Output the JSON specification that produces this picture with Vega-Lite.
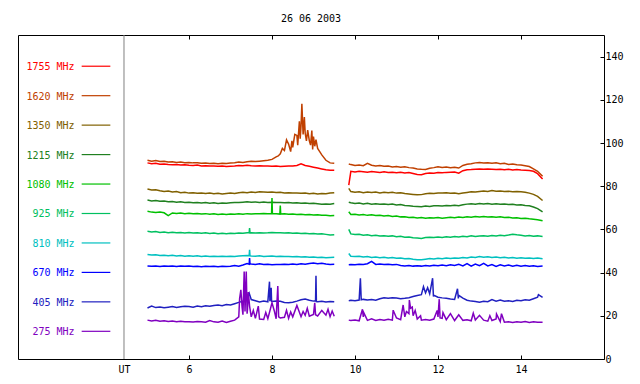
{
"$schema": "https://vega.github.io/schema/vega-lite/v6.json",
"width": 586, "height": 324,
"autosize": {"type": "none"},
"padding": {"left": 18, "top": 35, "right": 36, "bottom": 25},
"background": "#ffffff",
"title": {"text": "26 06 2003", "font": "DejaVu Sans Mono", "fontSize": 10, "fontWeight": "normal", "color": "#000000", "baseline": "alphabetic", "offset": 3, "anchor": "middle"},
"config": {
  "view": {"stroke": "#000000", "strokeWidth": 1},
  "axis": {"labelFont": "DejaVu Sans Mono", "labelFontSize": 10, "labelColor": "#000000", "tickColor": "#000000", "domain": false, "grid": false, "title": null}
},
"datasets": {
"series": [
{"t":5.0,"g":1,"a":90.8,"b":92.0,"c":78.7,"d":73.6,"e":68.4,"f":59.1,"h":48.4,"i":43.1,"j":23.6,"k":18.0},
{"t":5.1,"g":1,"a":90.4,"b":91.6,"c":78.2,"d":73.2,"e":68.0,"f":58.8,"h":48.1,"i":42.9,"j":24.5,"k":17.6},
{"t":5.2,"g":1,"a":90.6,"b":91.9,"c":78.4,"d":73.4,"e":67.8,"f":59.0,"h":48.3,"i":43.0,"j":23.8,"k":17.9},
{"t":5.3,"g":1,"a":90.2,"b":91.4,"c":77.9,"d":73.0,"e":68.1,"f":58.6,"h":47.9,"i":42.8,"j":24.1,"k":17.5},
{"t":5.4,"g":1,"a":90.3,"b":91.6,"c":77.6,"d":73.1,"e":67.7,"f":58.8,"h":48.0,"i":43.1,"j":23.7,"k":17.7},
{"t":5.5,"g":1,"a":90.0,"b":91.2,"c":77.8,"d":72.8,"e":66.4,"f":58.5,"h":47.8,"i":42.9,"j":24.0,"k":17.4},
{"t":5.6,"g":1,"a":89.9,"b":91.3,"c":77.3,"d":72.9,"e":67.6,"f":58.7,"h":48.0,"i":43.0,"j":24.3,"k":17.6},
{"t":5.7,"g":1,"a":90.1,"b":91.0,"c":77.5,"d":72.6,"e":67.4,"f":58.4,"h":47.7,"i":42.8,"j":23.9,"k":17.3},
{"t":5.8,"g":1,"a":89.8,"b":91.2,"c":77.0,"d":72.8,"e":67.6,"f":58.6,"h":47.9,"i":43.0,"j":24.2,"k":17.5},
{"t":5.9,"g":1,"a":89.9,"b":90.9,"c":77.2,"d":72.5,"e":67.3,"f":58.3,"h":47.6,"i":42.9,"j":24.4,"k":17.2},
{"t":6.0,"g":1,"a":89.7,"b":91.0,"c":76.8,"d":72.6,"e":67.5,"f":58.6,"h":47.8,"i":43.0,"j":24.3,"k":17.3},
{"t":6.1,"g":1,"a":89.6,"b":90.8,"c":77.0,"d":72.3,"e":67.2,"f":58.3,"h":47.6,"i":42.8,"j":24.0,"k":17.1},
{"t":6.2,"g":1,"a":89.8,"b":90.9,"c":76.7,"d":72.5,"e":67.4,"f":58.5,"h":47.8,"i":42.9,"j":24.5,"k":17.4},
{"t":6.3,"g":1,"a":89.4,"b":90.6,"c":76.9,"d":72.2,"e":67.1,"f":58.2,"h":47.5,"i":42.7,"j":24.2,"k":17.2},
{"t":6.4,"g":1,"a":89.5,"b":90.7,"c":76.6,"d":72.4,"e":67.3,"f":58.4,"h":47.7,"i":42.9,"j":24.6,"k":17.0},
{"t":6.5,"g":1,"a":89.3,"b":90.5,"c":76.8,"d":72.1,"e":67.0,"f":58.1,"h":47.5,"i":42.8,"j":24.4,"k":17.8},
{"t":6.6,"g":1,"a":89.4,"b":90.6,"c":76.5,"d":72.3,"e":67.2,"f":58.3,"h":47.6,"i":42.9,"j":24.8,"k":17.2},
{"t":6.7,"g":1,"a":89.2,"b":90.4,"c":76.7,"d":72.0,"e":66.9,"f":58.0,"h":47.4,"i":42.7,"j":25.0,"k":17.0},
{"t":6.8,"g":1,"a":89.3,"b":90.6,"c":76.4,"d":72.2,"e":67.1,"f":58.2,"h":47.6,"i":42.9,"j":24.7,"k":17.6},
{"t":6.9,"g":1,"a":89.1,"b":90.5,"c":76.6,"d":72.1,"e":66.9,"f":58.0,"h":47.4,"i":42.8,"j":25.2,"k":16.9},
{"t":7.0,"g":1,"a":89.2,"b":90.7,"c":76.8,"d":72.3,"e":67.1,"f":58.2,"h":47.6,"i":42.9,"j":25.0,"k":17.5},
{"t":7.1,"g":1,"a":89.3,"b":90.9,"c":76.6,"d":72.5,"e":67.0,"f":58.1,"h":47.5,"i":43.3,"j":25.6,"k":18.0},
{"t":7.2,"g":1,"a":89.6,"b":91.2,"c":77.0,"d":72.4,"e":67.2,"f":58.3,"h":47.7,"i":43.0,"j":26.2,"k":19.5},
{"t":7.3,"g":1,"a":89.5,"b":91.0,"c":77.2,"d":72.6,"e":67.0,"f":58.2,"h":47.8,"i":43.5,"j":26.8,"k":20.5},
{"t":7.4,"g":1,"a":89.7,"b":91.3,"c":77.0,"d":72.8,"e":67.3,"f":58.4,"h":47.9,"i":44.2,"j":28.2,"k":21.0},
{"t":7.5,"g":1,"a":89.5,"b":91.5,"c":77.3,"d":72.6,"e":67.1,"f":58.5,"h":47.7,"i":44.0,"j":27.5,"k":19.5},
{"t":7.6,"g":1,"a":89.4,"b":91.4,"c":77.1,"d":72.7,"e":67.3,"f":58.3,"h":47.6,"i":43.8,"j":27.0,"k":18.8},
{"t":7.7,"g":1,"a":89.5,"b":91.6,"c":77.4,"d":72.5,"e":67.2,"f":58.5,"h":47.8,"i":44.1,"j":26.4,"k":18.5},
{"t":7.8,"g":1,"a":89.3,"b":91.8,"c":77.3,"d":72.7,"e":67.4,"f":58.3,"h":47.5,"i":43.7,"j":26.8,"k":18.3},
{"t":7.9,"g":1,"a":89.4,"b":92.0,"c":77.2,"d":72.5,"e":67.2,"f":58.4,"h":47.6,"i":43.9,"j":26.5,"k":18.7},
{"t":8.0,"g":1,"a":89.2,"b":92.4,"c":77.3,"d":72.6,"e":74.5,"f":58.6,"h":47.7,"i":43.6,"j":26.6,"k":26.0},
{"t":8.1,"g":1,"a":89.3,"b":93.6,"c":77.1,"d":72.4,"e":67.3,"f":58.4,"h":47.5,"i":43.8,"j":26.9,"k":18.6},
{"t":8.2,"g":1,"a":89.1,"b":95.0,"c":77.2,"d":72.5,"e":71.0,"f":58.5,"h":47.6,"i":43.7,"j":26.7,"k":19.0},
{"t":8.3,"g":1,"a":89.2,"b":96.5,"c":76.9,"d":72.3,"e":67.2,"f":58.3,"h":47.4,"i":43.9,"j":26.2,"k":19.3},
{"t":8.4,"g":1,"a":89.3,"b":99.5,"c":77.0,"d":72.4,"e":67.0,"f":58.4,"h":47.5,"i":43.8,"j":26.0,"k":18.8},
{"t":8.5,"g":1,"a":89.4,"b":98.0,"c":76.8,"d":72.2,"e":67.1,"f":58.2,"h":47.3,"i":44.0,"j":26.3,"k":19.5},
{"t":8.6,"g":1,"a":89.6,"b":103.5,"c":76.9,"d":72.3,"e":66.9,"f":58.3,"h":47.4,"i":43.8,"j":26.8,"k":24.8},
{"t":8.7,"g":1,"a":90.4,"b":108.0,"c":76.7,"d":72.1,"e":67.0,"f":58.1,"h":47.2,"i":44.1,"j":27.4,"k":19.6},
{"t":8.8,"g":1,"a":89.6,"b":104.5,"c":76.8,"d":72.2,"e":66.8,"f":58.2,"h":47.3,"i":43.9,"j":27.8,"k":20.2},
{"t":8.9,"g":1,"a":89.2,"b":101.0,"c":76.5,"d":72.0,"e":66.9,"f":58.0,"h":47.1,"i":44.2,"j":27.2,"k":19.8},
{"t":9.0,"g":1,"a":88.8,"b":103.0,"c":76.7,"d":72.1,"e":66.7,"f":58.1,"h":47.2,"i":44.4,"j":26.8,"k":20.6},
{"t":9.1,"g":1,"a":88.4,"b":97.5,"c":76.4,"d":71.9,"e":66.8,"f":57.9,"h":47.0,"i":44.1,"j":26.5,"k":19.9},
{"t":9.2,"g":1,"a":88.0,"b":94.5,"c":76.6,"d":71.6,"e":66.5,"f":58.0,"h":47.1,"i":44.3,"j":26.7,"k":22.5},
{"t":9.3,"g":1,"a":87.6,"b":92.0,"c":76.5,"d":71.8,"e":66.6,"f":57.7,"h":46.9,"i":44.0,"j":26.4,"k":20.3},
{"t":9.4,"g":1,"a":87.4,"b":90.8,"c":76.8,"d":71.7,"e":66.3,"f":57.4,"h":47.0,"i":43.8,"j":26.6,"k":19.6},
{"t":9.5,"g":1,"a":87.4,"b":90.6,"c":77.0,"d":72.0,"e":66.4,"f":57.5,"h":47.1,"i":43.9,"j":26.5,"k":19.8},
{"t":7.22,"g":1,"k":28.0},
{"t":7.25,"g":1,"k":32.0},
{"t":7.28,"g":1,"k":24.0},
{"t":7.33,"g":1,"k":40.5},
{"t":7.35,"g":1,"k":22.0},
{"t":7.38,"g":1,"k":40.5},
{"t":7.41,"g":1,"k":23.0},
{"t":7.43,"g":1,"k":31.0},
{"t":7.45,"g":1,"f":58.4,"h":47.8,"i":43.9,"j":30.5},
{"t":7.46,"g":1,"f":60.6,"h":50.5,"i":46.7,"k":24.5},
{"t":7.47,"g":1,"f":58.4,"h":47.8,"i":44.1},
{"t":7.55,"g":1,"k":22.5},
{"t":7.67,"g":1,"k":24.5},
{"t":7.85,"g":1,"k":21.5},
{"t":7.94,"g":1,"j":35.8},
{"t":7.95,"g":1,"j":26.8},
{"t":7.98,"g":1,"j":33.0},
{"t":7.99,"g":1,"e":67.3,"j":26.7},
{"t":8.01,"g":1,"e":67.3},
{"t":8.06,"g":1,"k":22.0},
{"t":8.14,"g":1,"k":33.8},
{"t":8.15,"g":1,"b":94.0},
{"t":8.16,"g":1,"k":19.5},
{"t":8.19,"g":1,"e":67.1},
{"t":8.21,"g":1,"e":67.1},
{"t":8.25,"g":1,"b":97.5},
{"t":8.35,"g":1,"b":101.5,"k":22.5},
{"t":8.45,"g":1,"b":96.0,"k":21.8},
{"t":8.48,"g":1,"b":101.0},
{"t":8.55,"g":1,"b":104.0},
{"t":8.62,"g":1,"b":99.0},
{"t":8.66,"g":1,"b":110.0},
{"t":8.68,"g":1,"b":102.0},
{"t":8.72,"g":1,"b":118.2},
{"t":8.75,"g":1,"b":104.0,"k":22.0},
{"t":8.78,"g":1,"b":112.0},
{"t":8.83,"g":1,"b":101.0},
{"t":8.85,"g":1,"k":23.5},
{"t":8.86,"g":1,"b":106.0},
{"t":8.93,"g":1,"b":99.0},
{"t":8.96,"g":1,"b":105.8},
{"t":8.98,"g":1,"b":97.0},
{"t":9.03,"g":1,"b":98.5,"k":26.0},
{"t":9.05,"g":1,"j":26.8,"k":20.5},
{"t":9.06,"g":1,"b":101.5,"j":38.5},
{"t":9.07,"g":1,"j":26.6},
{"t":9.15,"g":1,"b":96.0},
{"t":9.35,"g":1,"k":23.0},
{"t":9.45,"g":1,"k":22.2},
{"t":9.85,"g":2,"a":80.5,"b":90.3,"c":79.0,"d":72.6,"e":68.2,"f":60.0,"h":48.8,"i":43.6,"j":27.0,"k":18.0},
{"t":9.9,"g":2,"a":86.9,"b":90.0,"c":77.5,"d":72.3,"e":66.9,"f":57.9,"h":47.6,"i":43.7,"j":27.2,"k":17.8},
{"t":10.0,"g":2,"a":86.6,"b":89.6,"c":77.2,"d":72.0,"e":67.0,"f":57.6,"h":47.4,"i":43.6,"j":27.0,"k":18.1},
{"t":10.1,"g":2,"a":86.9,"b":89.8,"c":77.4,"d":72.2,"e":66.7,"f":57.8,"h":47.6,"i":43.9,"j":27.3,"k":17.7},
{"t":10.2,"g":2,"a":86.7,"b":89.5,"c":77.0,"d":71.8,"e":66.9,"f":57.3,"h":47.2,"i":43.7,"j":27.6,"k":19.5},
{"t":10.3,"g":2,"a":86.5,"b":90.6,"c":77.3,"d":72.1,"e":66.5,"f":57.5,"h":47.4,"i":44.1,"j":27.3,"k":17.9},
{"t":10.4,"g":2,"a":86.8,"b":89.7,"c":77.1,"d":71.7,"e":66.8,"f":57.1,"h":47.0,"i":45.2,"j":27.5,"k":18.6},
{"t":10.5,"g":2,"a":86.6,"b":89.4,"c":77.3,"d":71.9,"e":66.4,"f":57.3,"h":47.2,"i":43.8,"j":27.2,"k":17.8},
{"t":10.6,"g":2,"a":86.4,"b":89.6,"c":76.9,"d":71.6,"e":66.6,"f":56.9,"h":46.9,"i":44.0,"j":27.9,"k":18.3},
{"t":10.7,"g":2,"a":86.7,"b":89.2,"c":77.2,"d":71.8,"e":66.2,"f":57.1,"h":47.1,"i":43.7,"j":28.3,"k":17.9},
{"t":10.8,"g":2,"a":86.3,"b":89.3,"c":77.0,"d":71.5,"e":66.4,"f":56.8,"h":46.8,"i":43.9,"j":28.1,"k":18.4},
{"t":10.9,"g":2,"a":86.5,"b":88.9,"c":77.2,"d":71.7,"e":66.0,"f":57.0,"h":47.0,"i":43.6,"j":28.4,"k":18.0},
{"t":11.0,"g":2,"a":86.2,"b":89.1,"c":76.8,"d":71.3,"e":66.2,"f":56.6,"h":46.6,"i":43.8,"j":28.2,"k":19.0},
{"t":11.1,"g":2,"a":86.4,"b":88.8,"c":77.0,"d":71.5,"e":65.8,"f":56.8,"h":46.8,"i":43.3,"j":27.9,"k":18.2},
{"t":11.2,"g":2,"a":86.1,"b":89.0,"c":76.6,"d":71.1,"e":65.9,"f":56.4,"h":46.4,"i":43.1,"j":28.1,"k":19.5},
{"t":11.3,"g":2,"a":86.3,"b":88.6,"c":76.4,"d":70.9,"e":65.5,"f":56.5,"h":46.5,"i":43.3,"j":28.4,"k":21.0},
{"t":11.4,"g":2,"a":85.9,"b":88.4,"c":76.2,"d":70.7,"e":65.6,"f":56.1,"h":46.2,"i":43.0,"j":28.9,"k":20.0},
{"t":11.5,"g":2,"a":85.4,"b":88.0,"c":76.0,"d":70.6,"e":65.3,"f":56.0,"h":46.0,"i":43.2,"j":29.4,"k":18.5},
{"t":11.6,"g":2,"a":85.3,"b":87.8,"c":76.1,"d":70.5,"e":65.5,"f":55.8,"h":45.9,"i":43.0,"j":29.8,"k":18.0},
{"t":11.7,"g":2,"a":85.9,"b":87.7,"c":76.5,"d":70.8,"e":65.2,"f":56.2,"h":46.2,"i":43.3,"j":30.6,"k":18.3},
{"t":11.8,"g":2,"a":86.1,"b":88.3,"c":76.7,"d":70.6,"e":65.4,"f":56.4,"h":46.5,"i":43.1,"j":30.2,"k":17.9},
{"t":11.9,"g":2,"a":86.0,"b":88.6,"c":76.6,"d":70.9,"e":65.3,"f":56.2,"h":46.3,"i":43.4,"j":29.5,"k":18.5},
{"t":12.0,"g":2,"a":86.3,"b":89.0,"c":76.9,"d":71.0,"e":65.5,"f":56.5,"h":46.6,"i":43.2,"j":28.6,"k":19.5},
{"t":12.1,"g":2,"a":86.2,"b":88.7,"c":76.8,"d":70.8,"e":65.2,"f":56.3,"h":46.4,"i":43.5,"j":28.3,"k":18.8},
{"t":12.2,"g":2,"a":86.4,"b":88.9,"c":77.0,"d":71.1,"e":65.4,"f":56.6,"h":46.7,"i":43.2,"j":28.1,"k":18.2},
{"t":12.3,"g":2,"a":86.5,"b":88.6,"c":76.7,"d":70.9,"e":65.6,"f":56.4,"h":46.5,"i":43.6,"j":27.8,"k":21.0},
{"t":12.4,"g":2,"a":86.6,"b":88.8,"c":76.9,"d":71.2,"e":65.4,"f":56.7,"h":46.8,"i":43.3,"j":27.6,"k":17.8},
{"t":12.5,"g":2,"a":86.0,"b":88.4,"c":76.5,"d":71.0,"e":65.7,"f":56.5,"h":46.6,"i":43.8,"j":29.5,"k":20.5},
{"t":12.6,"g":2,"a":87.2,"b":89.6,"c":76.8,"d":71.4,"e":65.5,"f":56.8,"h":47.0,"i":43.1,"j":28.2,"k":17.9},
{"t":12.7,"g":2,"a":87.6,"b":90.2,"c":77.1,"d":71.7,"e":65.8,"f":56.6,"h":46.8,"i":44.2,"j":27.2,"k":18.2},
{"t":12.8,"g":2,"a":87.7,"b":90.4,"c":77.4,"d":71.9,"e":65.6,"f":57.0,"h":47.2,"i":43.0,"j":26.8,"k":17.7},
{"t":12.9,"g":2,"a":87.9,"b":90.8,"c":77.3,"d":71.6,"e":66.0,"f":56.7,"h":47.0,"i":44.0,"j":26.6,"k":18.1},
{"t":13.0,"g":2,"a":88.0,"b":91.0,"c":77.6,"d":72.0,"e":65.8,"f":56.9,"h":47.4,"i":43.2,"j":26.3,"k":20.2},
{"t":13.1,"g":2,"a":87.8,"b":90.7,"c":77.8,"d":71.8,"e":66.0,"f":57.1,"h":47.1,"i":44.3,"j":26.7,"k":18.0},
{"t":13.2,"g":2,"a":88.0,"b":90.9,"c":77.6,"d":72.0,"e":65.7,"f":56.8,"h":47.3,"i":43.1,"j":26.5,"k":17.5},
{"t":13.3,"g":2,"a":87.9,"b":90.6,"c":78.0,"d":71.7,"e":65.9,"f":57.2,"h":47.0,"i":43.7,"j":27.5,"k":17.8},
{"t":13.4,"g":2,"a":87.7,"b":90.8,"c":77.7,"d":71.9,"e":65.6,"f":57.0,"h":47.2,"i":42.9,"j":26.8,"k":18.5},
{"t":13.5,"g":2,"a":87.9,"b":90.4,"c":77.8,"d":71.6,"e":65.8,"f":57.3,"h":46.9,"i":43.6,"j":27.3,"k":17.3},
{"t":13.6,"g":2,"a":87.6,"b":90.6,"c":77.5,"d":71.8,"e":65.5,"f":57.1,"h":47.1,"i":43.1,"j":26.7,"k":17.0},
{"t":13.7,"g":2,"a":87.8,"b":90.1,"c":77.7,"d":71.5,"e":65.6,"f":57.4,"h":46.8,"i":43.5,"j":27.0,"k":17.2},
{"t":13.8,"g":2,"a":87.5,"b":90.3,"c":77.4,"d":71.6,"e":65.3,"f":57.8,"h":47.0,"i":42.9,"j":26.6,"k":16.9},
{"t":13.9,"g":2,"a":87.7,"b":89.9,"c":77.6,"d":71.3,"e":65.4,"f":57.5,"h":46.7,"i":43.4,"j":27.2,"k":17.2},
{"t":14.0,"g":2,"a":87.5,"b":89.8,"c":77.4,"d":71.4,"e":65.1,"f":57.3,"h":46.9,"i":43.0,"j":27.0,"k":17.0},
{"t":14.1,"g":2,"a":87.4,"b":89.5,"c":77.2,"d":71.1,"e":65.2,"f":57.0,"h":46.6,"i":43.3,"j":27.4,"k":17.3},
{"t":14.2,"g":2,"a":87.3,"b":89.1,"c":76.8,"d":70.9,"e":64.9,"f":57.2,"h":46.8,"i":42.9,"j":27.2,"k":16.9},
{"t":14.3,"g":2,"a":86.9,"b":88.0,"c":76.2,"d":70.4,"e":64.7,"f":56.8,"h":46.5,"i":43.2,"j":27.9,"k":17.2},
{"t":14.4,"g":2,"a":85.8,"b":86.9,"c":75.3,"d":69.6,"e":64.5,"f":57.0,"h":46.7,"i":42.8,"j":28.6,"k":17.0},
{"t":14.52,"g":2,"a":83.3,"b":84.6,"c":73.4,"d":68.1,"e":64.0,"f":56.7,"h":46.4,"i":43.0,"j":28.5,"k":17.0},
{"t":10.13,"g":2,"j":37.4},
{"t":10.15,"g":2,"j":27.4},
{"t":10.18,"g":2,"k":23.0},
{"t":10.21,"g":2,"k":21.5},
{"t":10.92,"g":2,"k":22.6},
{"t":11.16,"g":2,"k":25.0},
{"t":11.24,"g":2,"k":22.0},
{"t":11.31,"g":2,"k":27.3},
{"t":11.34,"g":2,"k":23.5},
{"t":11.38,"g":2,"k":24.0},
{"t":11.45,"g":2,"k":22.5},
{"t":11.58,"g":2,"k":20.0},
{"t":11.65,"g":2,"j":33.5},
{"t":11.75,"g":2,"j":33.0},
{"t":11.87,"g":2,"j":37.4},
{"t":11.89,"g":2,"j":29.0},
{"t":11.98,"g":2,"k":22.5},
{"t":12.03,"g":2,"k":27.7},
{"t":12.05,"g":2,"k":19.0},
{"t":12.12,"g":2,"k":21.5},
{"t":12.47,"g":2,"j":32.5},
{"t":12.49,"g":2,"j":28.0},
{"t":12.85,"g":2,"k":21.2},
{"t":13.25,"g":2,"k":20.0},
{"t":13.41,"g":2,"k":20.8},
{"t":13.53,"g":2,"k":21.0},
{"t":14.42,"g":2,"j":29.8}
],
"legend": [
{"key":"a","label":"1755 MHz"},
{"key":"b","label":"1620 MHz"},
{"key":"c","label":"1350 MHz"},
{"key":"d","label":"1215 MHz"},
{"key":"e","label":"1080 MHz"},
{"key":"f","label":"925 MHz"},
{"key":"h","label":"810 MHz"},
{"key":"i","label":"670 MHz"},
{"key":"j","label":"405 MHz"},
{"key":"k","label":"275 MHz"}
]
},
"layer": [
{
  "data": {"name": "series"},
  "transform": [{"fold": ["a","b","c","d","e","f","h","i","j","k"], "as": ["key","v"]}],
  "mark": {"type": "line", "strokeWidth": 1.5, "clip": true, "invalid": "filter"},
  "encoding": {
    "x": {"field": "t", "type": "quantitative", "scale": {"domain": [1.88, 16], "nice": false, "zero": false},
      "axis": {"orient": "bottom", "values": [4.434, 6, 8, 10, 12, 14], "format": "d", "labelExpr": "datum.value < 5 ? 'UT' : datum.label", "tickSize": -4, "labelPadding": 9,
        "tickColor": {"condition": {"test": "datum.value < 5", "value": "transparent"}, "value": "#000000"}}},
    "y": {"field": "v", "type": "quantitative", "scale": {"domain": [0, 150], "nice": false, "zero": false},
      "axis": {"orient": "right", "values": [0, 20, 40, 60, 80, 100, 120, 140], "tickSize": -4, "labelPadding": 5}},
    "color": {"field": "key", "type": "nominal", "scale": {"domain": ["a","b","c","d","e","f","h","i","j","k"], "range": ["#ff0000","#c04000","#806000","#208020","#00c000","#00c060","#00c0c0","#0000ff","#2020c0","#8000c0"]}, "legend": null},
    "detail": {"field": "g", "type": "nominal"}
  }
},
{
  "data": {"values": [{"t": 4.434}]},
  "mark": {"type": "rule", "color": "#808080", "strokeWidth": 1},
  "encoding": {
    "x": {"field": "t", "type": "quantitative", "scale": {"domain": [1.88, 16], "nice": false, "zero": false},
      "axis": {"orient": "top", "values": [6, 8, 10, 12, 14], "labels": false, "tickSize": -4}}
  }
},
{
  "data": {"name": "legend"},
  "mark": {"type": "rule", "strokeWidth": 1.2},
  "encoding": {
    "x": {"datum": 3.414, "type": "quantitative", "scale": {"domain": [1.88, 16], "nice": false, "zero": false}, "axis": null},
    "x2": {"datum": 4.105},
    "y": {"field": "key", "type": "ordinal", "scale": {"domain": ["a","b","c","d","e","f","h","i","j","k"], "padding": 1.05, "align": 0.53}, "axis": null},
    "color": {"field": "key", "type": "nominal", "scale": {"domain": ["a","b","c","d","e","f","h","i","j","k"], "range": ["#ff0000","#c04000","#806000","#208020","#00c000","#00c060","#00c0c0","#0000ff","#2020c0","#8000c0"]}, "legend": null}
  }
},
{
  "data": {"name": "legend"},
  "mark": {"type": "text", "align": "right", "baseline": "middle", "font": "DejaVu Sans Mono", "fontSize": 10, "dy": 1},
  "encoding": {
    "x": {"datum": 3.245, "type": "quantitative", "scale": {"domain": [1.88, 16], "nice": false, "zero": false}, "axis": null},
    "y": {"field": "key", "type": "ordinal", "scale": {"domain": ["a","b","c","d","e","f","h","i","j","k"], "padding": 1.05, "align": 0.53}, "axis": null},
    "text": {"field": "label"},
    "color": {"field": "key", "type": "nominal", "scale": {"domain": ["a","b","c","d","e","f","h","i","j","k"], "range": ["#ff0000","#c04000","#806000","#208020","#00c000","#00c060","#00c0c0","#0000ff","#2020c0","#8000c0"]}, "legend": null}
  }
}
],
"resolve": {"axis": {"x": "independent"}, "scale": {"y": "independent"}}
}
